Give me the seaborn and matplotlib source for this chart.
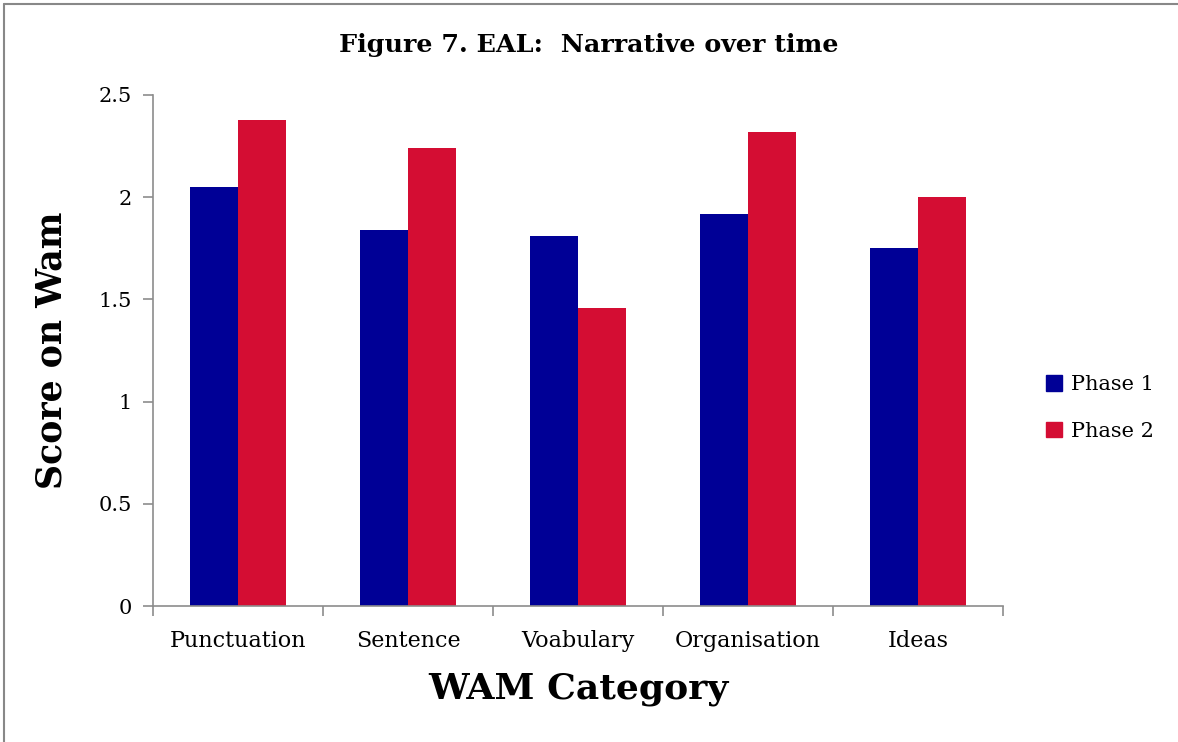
import matplotlib
matplotlib.use("Agg")
import matplotlib.pyplot as plt
import seaborn as sns
import pandas as pd
from matplotlib.lines import Line2D
from matplotlib.ticker import FixedLocator

categories = ["Punctuation", "Sentence", "Voabulary", "Organisation", "Ideas"]
phase1 = [2.05, 1.84, 1.81, 1.92, 1.75]
phase2 = [2.38, 2.24, 1.46, 2.32, 2.00]
series = ["Phase 1", "Phase 2"]
yticks = [0, 0.5, 1, 1.5, 2, 2.5]
ytick_labels = ["0", "0.5", "1", "1.5", "2", "2.5"]

df = pd.DataFrame({
    "Category": categories * 2,
    "Score": phase1 + phase2,
    "Phase": [series[0]] * len(categories) + [series[1]] * len(categories),
})

sns.set_theme(style="white")
plt.rcParams["font.family"] = ["DejaVu Serif"]
plt.rcParams["text.color"] = "black"
plt.rcParams["axes.labelcolor"] = "black"
plt.rcParams["xtick.color"] = "black"
plt.rcParams["ytick.color"] = "black"

fig = plt.figure(figsize=(11.78, 7.42), dpi=100)
ax = fig.add_axes([153/1178, 1-606/742, 850/1178, 511/742])

palette = {"Phase 1": "#000096", "Phase 2": "#D40D33"}
sns.barplot(data=df, x="Category", y="Score", hue="Phase", order=categories,
            hue_order=series, palette=palette, width=0.57, saturation=1,
            linewidth=0, ax=ax, legend=False)

ax.set_xlim(-0.5, len(categories) - 0.5)
ax.set_ylim(0, 2.5)
ax.set_yticks(yticks)
ax.set_yticklabels(ytick_labels, fontsize=15)
ax.tick_params(axis="x", which="major", length=0, labelsize=16, pad=17, labelcolor="black")
ax.xaxis.set_minor_locator(FixedLocator([i - 0.5 for i in range(len(categories) + 1)]))
ax.tick_params(axis="x", which="minor", length=7, color="#8c8c8c", width=1.2, direction="out", bottom=True)
ax.tick_params(axis="y", which="major", length=7, color="#8c8c8c", width=1.2, direction="out", left=True, pad=8, labelcolor="black")

for s in ["top", "right"]:
    ax.spines[s].set_visible(False)
for s in ["left", "bottom"]:
    ax.spines[s].set_color("#8c8c8c")
    ax.spines[s].set_linewidth(1.2)

ax.set_xlabel("WAM Category", fontsize=26, fontweight="bold", labelpad=15, color="black")
ax.set_ylabel("Score on Wam", fontsize=25, fontweight="bold", labelpad=22, color="black")

fig.text(0.5, 1-45/742, "Figure 7. EAL:  Narrative over time", ha="center", va="center",
         fontsize=18.3, fontweight="bold", color="black")

handles = [plt.Rectangle((0, 0), 1, 1, color=palette[s]) for s in series]
fig.legend(handles, series, loc="center left", bbox_to_anchor=(1027/1178, 1-408/742),
           frameon=False, fontsize=15, handlelength=0.8, handleheight=0.8,
           handletextpad=0.4, labelspacing=1.3)

fig.add_artist(Line2D([4/1178, 1], [1-4/742, 1-4/742], color="#888888", lw=1.5))
fig.add_artist(Line2D([4/1178, 4/1178], [0, 1-4/742], color="#888888", lw=1.5))

fig.savefig("out.png", dpi=100)
